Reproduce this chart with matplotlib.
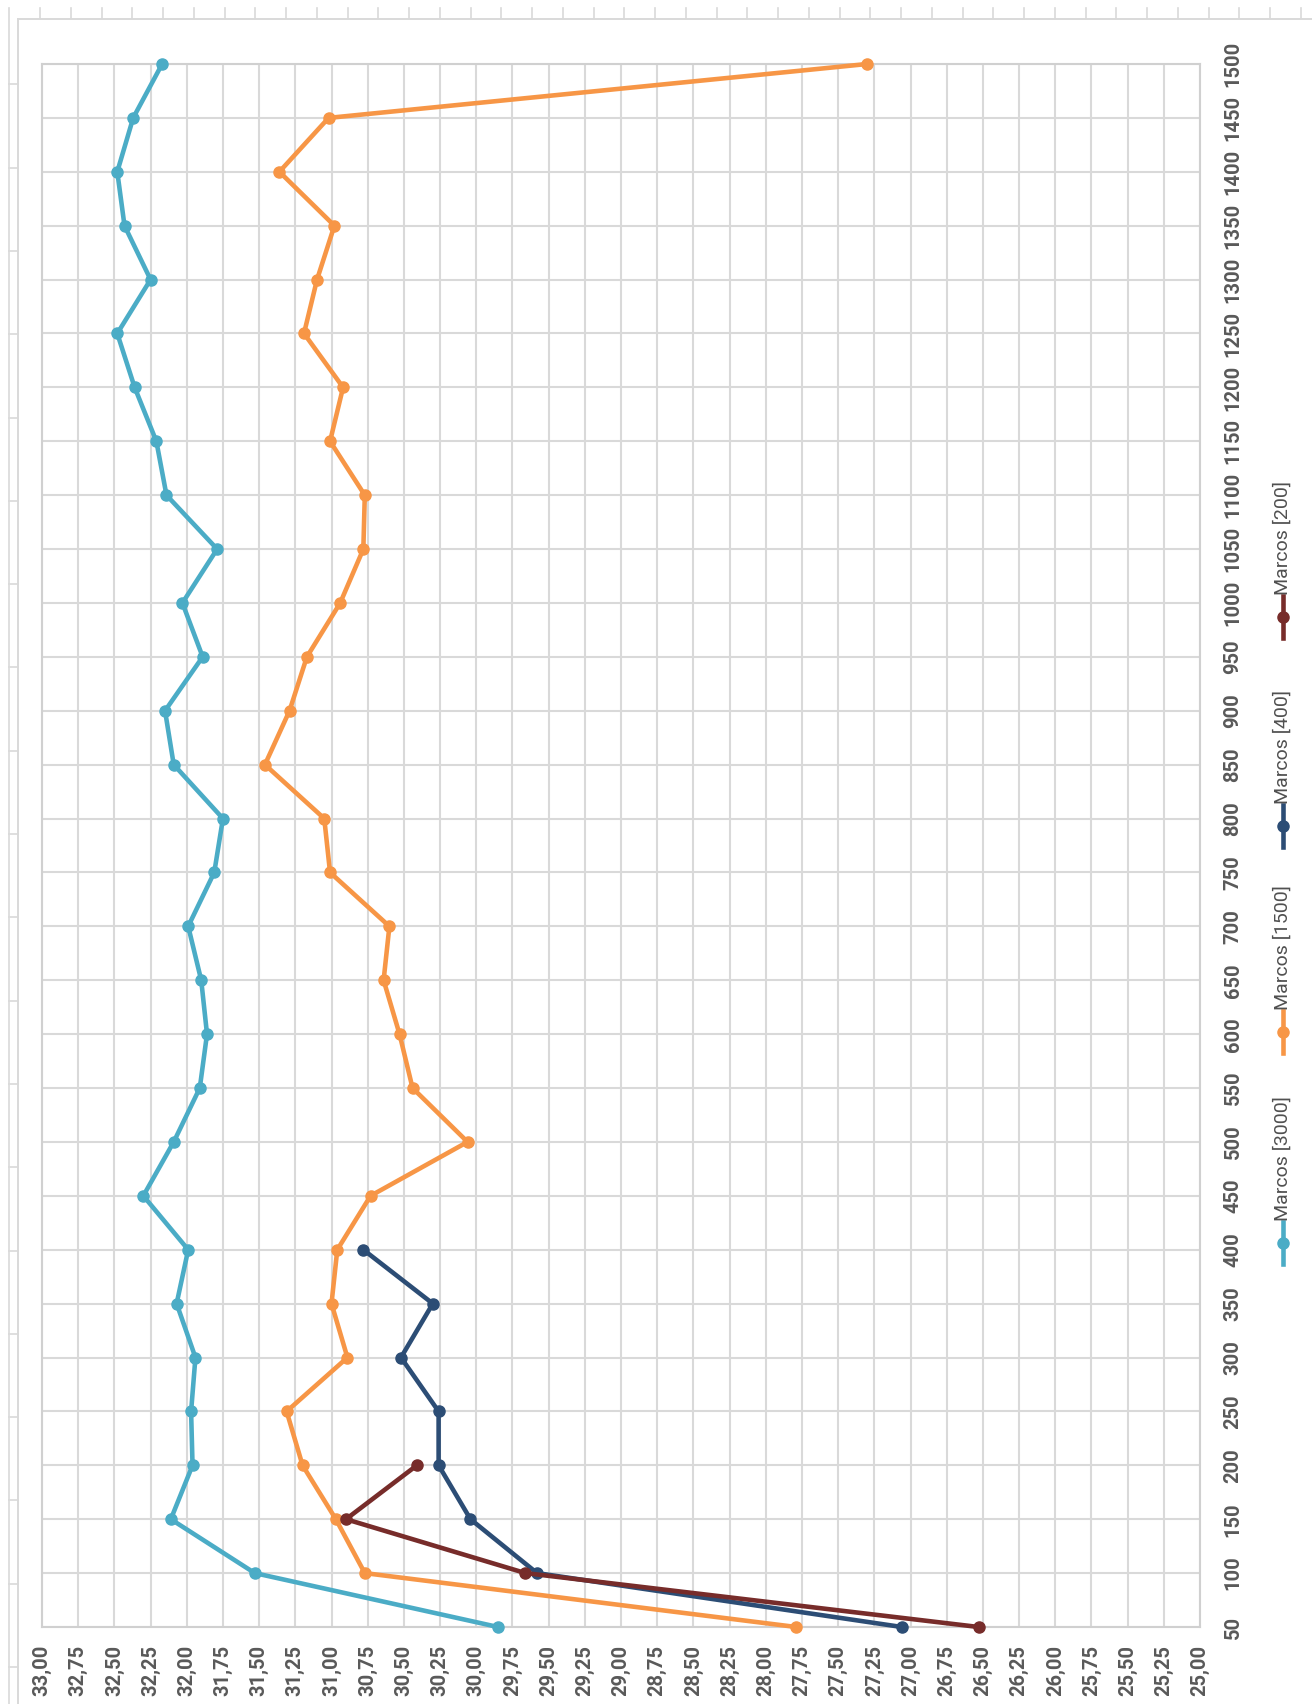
import numpy as np
import matplotlib
matplotlib.use("Agg")
import matplotlib.pyplot as plt
from matplotlib.lines import Line2D

plt.rcParams["font.family"] = ["Lato", "DejaVu Sans"]

# ---------------------------------------------------------------- data
CATS = [50, 100, 150, 200, 250, 300, 350, 400, 450, 500, 550, 600, 650, 700, 750,
        800, 850, 900, 950, 1000, 1050, 1100, 1150, 1200, 1250, 1300, 1350, 1400,
        1450, 1500]
m3000 = [29.85, 31.53, 32.11, 31.96, 31.97, 31.94, 32.07, 31.99, 32.30, 32.09,
         31.91, 31.86, 31.90, 31.99, 31.81, 31.75, 32.09, 32.15, 31.89, 32.03,
         31.79, 32.14, 32.21, 32.36, 32.48, 32.25, 32.43, 32.48, 32.37, 32.17]
m1500 = [27.79, 30.77, 30.97, 31.20, 31.31, 30.89, 31.00, 30.96, 30.73, 30.06,
         30.44, 30.53, 30.64, 30.60, 31.01, 31.05, 31.46, 31.29, 31.17, 30.94,
         30.78, 30.77, 31.01, 30.92, 31.19, 31.10, 30.98, 31.36, 31.02, 27.30]
cats_400 = [50, 100, 150, 200, 250, 300, 350, 400]
m400 = [27.06, 29.58, 30.04, 30.26, 30.26, 30.52, 30.30, 30.78]
cats_200 = [50, 100, 150, 200]
m200 = [26.53, 29.66, 30.90, 30.41]

SERIES = [
    ("Marcos [3000]", CATS, m3000, "#4BACC6"),
    ("Marcos [1500]", CATS, m1500, "#F79646"),
    ("Marcos [400]", cats_400, m400, "#2C4D75"),
    ("Marcos [200]", cats_200, m200, "#772C2A"),
]
VTICKS = np.arange(25.0, 33.001, 0.25)

# ---------------------------------------------------------------- figure
W, H = 1312, 1704
fig = plt.figure(figsize=(W / 100, H / 100), dpi=100)
GRID = "#D9D9D9"
TXT = "#595959"
TICKFONT = dict(family=["Roboto", "DejaVu Sans"], weight="bold", size=14.5,
                color=TXT)


def fx(x):
    return x / W


def fy(y):
    return 1 - y / H


# worksheet ruler / chart border decoration
for k in range(0, 43):
    x = 40 + 30.75 * k
    fig.add_artist(Line2D([fx(x), fx(x)], [fy(8), fy(18)], color=GRID, lw=1.2))
fig.add_artist(Line2D([fx(18), fx(W)], [fy(19), fy(19)], color=GRID, lw=1.4))
fig.add_artist(Line2D([fx(18), fx(18)], [fy(19), fy(H)], color=GRID, lw=1.4))
fig.add_artist(Line2D([fx(9), fx(9)], [fy(8), fy(H)], color=GRID, lw=1.2))
for k in range(0, 20):
    y = 1667 - 83.3 * k
    if y < 60:
        break
    fig.add_artist(Line2D([fx(9), fx(18)], [fy(y), fy(y)], color=GRID, lw=1.2))

L, R, T, B = 42, 1200, 64, 1627
ax = fig.add_axes([fx(L), fy(B), fx(R - L), (B - T) / H])

for name, xs, vals, col in SERIES:
    ax.plot(vals, xs, color=col, lw=3.3, marker="o", ms=8, solid_capstyle="round",
            zorder=3, clip_on=False)

ax.set_xlim(33, 25)
ax.set_ylim(50, 1500)
ax.set_xticks(VTICKS)
ax.set_xticklabels([f"{v:.2f}".replace(".", ",") for v in VTICKS], rotation=90,
                   **TICKFONT)
ax.set_yticks(CATS)
ax.yaxis.tick_right()
ax.set_yticklabels([str(c) for c in CATS], rotation=90, va="center", **TICKFONT)
ax.tick_params(axis="both", length=0)
ax.tick_params(axis="x", pad=13)
ax.tick_params(axis="y", pad=17)
ax.grid(True, color=GRID, lw=1.5, zorder=0)
ax.set_axisbelow(True)
for s in ax.spines.values():
    s.set_color("#D0D0D0")
    s.set_linewidth(1.5)

# legend, drawn rotated to match the sideways chart
LEG_X = 1283
LEG_BOTTOM = [1264, 1053, 847, 638]
for (name, xs, vals, col), yb in zip(SERIES, LEG_BOTTOM):
    fig.add_artist(Line2D([fx(LEG_X), fx(LEG_X)], [fy(yb), fy(yb - 42)], color=col,
                          lw=3.3))
    fig.add_artist(Line2D([fx(LEG_X)], [fy(yb - 21)], color=col, marker="o", ms=8,
                          lw=0))
    fig.text(fx(LEG_X), fy(yb - 43), name, rotation=90, rotation_mode="anchor",
             ha="left", va="center", fontsize=14, color="#505050",
             family=["Roboto", "DejaVu Sans"])

fig.savefig("out.png", dpi=100)
